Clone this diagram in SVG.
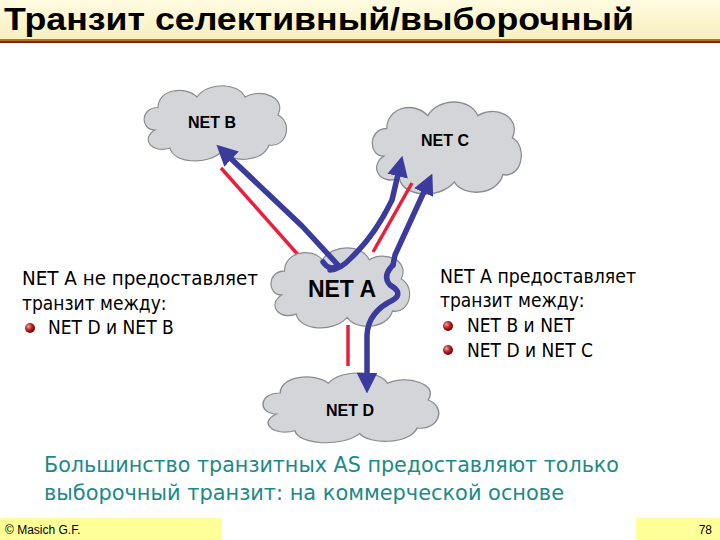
<svg xmlns="http://www.w3.org/2000/svg" width="720" height="540" viewBox="0 0 720 540">
<defs>
<linearGradient id="tg" x1="0" y1="0" x2="0" y2="1"><stop offset="0" stop-color="#fffbe0"/><stop offset="1" stop-color="#f8f0c0"/></linearGradient>
<radialGradient id="bul" cx="0.35" cy="0.35" r="0.7"><stop offset="0" stop-color="#f0a0a0"/><stop offset="0.5" stop-color="#c02020"/><stop offset="1" stop-color="#600000"/></radialGradient>
<path id="cloud" d="M10,30 C0,30 0,15 12,15 C12,3 30,0 38,8 C45,-2 65,-2 70,8 C80,2 98,8 92,20 C102,25 98,42 86,40 C82,52 60,52 55,44 C45,54 22,52 20,42 C8,46 0,36 10,30 Z"/>
<marker id="ah" viewBox="0 0 10 10" refX="5" refY="5" markerWidth="3.8" markerHeight="3.8" orient="auto"><path d="M0,0 L10,5 L0,10 Z" fill="#3b3b9e"/></marker>
</defs>
<style>
.cl{fill:#d3d5d8;stroke:#8a8d90;stroke-width:0.8}
.nl{font-family:"Liberation Sans",Arial,sans-serif;font-weight:bold;fill:#000;text-anchor:middle}
.t{font-family:"DejaVu Sans Condensed","Liberation Sans",sans-serif;font-size:19px;fill:#000}
.red{stroke:#e8203c;stroke-width:3.5;fill:none}
.blue{stroke:#3b3b9e;stroke-width:5.5;fill:none;stroke-linecap:round;stroke-linejoin:round;marker-end:url(#ah)}
</style>
<rect x="0" y="0" width="720" height="39" fill="url(#tg)"/>
<rect x="0" y="39" width="720" height="2" fill="#c07010"/>
<rect x="0" y="41" width="720" height="2" fill="#802010"/>
<text x="4" y="30" font-family="Liberation Sans,Arial,sans-serif" font-weight="bold" font-size="31" fill="#000" textLength="630" lengthAdjust="spacingAndGlyphs">Транзит селективный/выборочный</text>

<g id="netB"><use href="#cloud" class="cl" transform="translate(140,85) scale(1.5,1.5)"/><text class="nl" x="212" y="128" font-size="16">NET B</text></g>
<g id="netC"><use href="#cloud" class="cl" transform="translate(368,101) scale(1.57,1.84)"/><text class="nl" x="445" y="146" font-size="16">NET C</text></g>
<g id="netD"><use href="#cloud" class="cl" transform="translate(258,372) scale(1.85,1.4)"/><text class="nl" x="350" y="416" font-size="16">NET D</text></g>

<g id="connectors">
<line class="red" x1="221" y1="168" x2="300" y2="257"/>
<line class="red" x1="412" y1="183" x2="373" y2="252"/>
<line class="red" x1="348" y1="325" x2="348" y2="366"/>
</g>
<g id="netA"><use href="#cloud" class="cl" transform="translate(267,247) scale(1.46,1.6)"/><text class="nl" x="342" y="297" font-size="23">NET A</text></g>
<g id="arrows">
<path class="blue" d="M323,262 Q330,272 338,265 L302,226 L224,152"/>
<path class="blue" d="M330,270 Q340,270 352,257 Q375,235 392,200 L400,166"/>
<path class="blue" d="M393,265 Q382,276 390,285 Q404,293 393,300 Q368,312 367,335 L367,383"/>
<path class="blue" d="M393,265 L395,255 L428,183"/>
</g>

<g id="leftText">
<text class="t" x="22" y="285" textLength="236" lengthAdjust="spacingAndGlyphs">NET A не предоставляет</text>
<text class="t" x="22" y="310">транзит между:</text>
<circle cx="30" cy="328" r="5" fill="url(#bul)"/>
<text class="t" x="48" y="334">NET D и NET B</text>
</g>
<g id="rightText">
<text class="t" x="440" y="283" textLength="196" lengthAdjust="spacingAndGlyphs">NET A предоставляет</text>
<text class="t" x="440" y="307">транзит между:</text>
<circle cx="448" cy="326" r="5" fill="url(#bul)"/>
<text class="t" x="467" y="332">NET B и NET</text>
<circle cx="448" cy="350" r="5" fill="url(#bul)"/>
<text class="t" x="467" y="357">NET D и NET C</text>
</g>
<g id="bottomText" font-family="DejaVu Sans Condensed,Liberation Sans,sans-serif" font-size="22" fill="#1a8a8a">
<text x="44" y="472" textLength="575" lengthAdjust="spacingAndGlyphs">Большинство транзитных AS предоставляют только</text>
<text x="44" y="500" textLength="520" lengthAdjust="spacingAndGlyphs">выборочный транзит: на коммерческой основе</text>
</g>
<rect x="0" y="518" width="222" height="22" fill="#ffff99"/>
<rect x="636" y="518" width="84" height="22" fill="#ffff99"/>
<text x="5" y="534" font-family="Liberation Sans,sans-serif" font-size="12" fill="#000">© Masich G.F.</text>
<text x="712" y="534" text-anchor="end" font-family="Liberation Sans,sans-serif" font-size="12" fill="#000">78</text>
</svg>
